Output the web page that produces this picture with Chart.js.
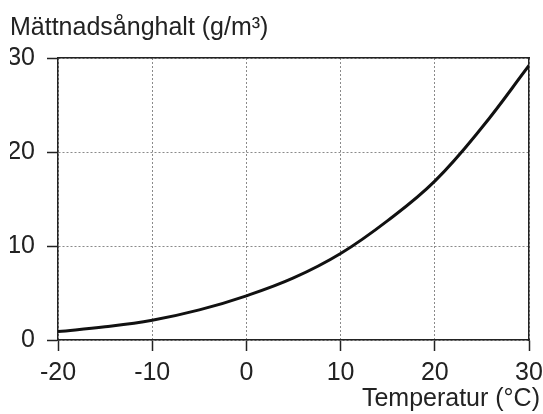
<!DOCTYPE html>
<html>
<head>
<meta charset="utf-8">
<script src="https://cdn.jsdelivr.net/npm/chart.js@4/dist/chart.umd.min.js"></script>
<style>
  html, body { margin: 0; padding: 0; background: #fff; }
  #wrap { width: 543px; height: 414px; }
</style>
</head>
<body>
<div id="wrap"><canvas id="vaporChart"></canvas></div>
<script>
// Saturation vapour content of air vs temperature
const temperatures = [-20, -15, -10, -5, 0, 5, 10, 15, 20, 25, 30];
const vaporContent = [0.9, 1.4, 2.1, 3.2, 4.7, 6.6, 9.2, 12.7, 16.9, 22.6, 29.2];
const xTicks = [-20, -10, 0, 10, 20, 30];
const yTicks = [0, 10, 20, 30];

const ink = '#222';
const gridGray = '#8a8a8a';

Chart.defaults.font.family = "'Liberation Sans', Arial, sans-serif";
Chart.defaults.font.size = 25;
Chart.defaults.color = ink;

const points = temperatures.map((t, i) => ({ x: t, y: vaporContent[i] }));

// frame-only axes on top and right
const frameAxis = (position) => ({
  type: 'linear',
  position: position,
  min: 0,
  max: 1,
  ticks: { display: false },
  grid: { display: false, drawTicks: false },
  border: { display: true, color: ink, width: 1.5 },
  afterFit: (axis) => {
    if (position === 'right') axis.width = 0;
    else axis.height = 0;
    axis.paddingLeft = 0;
    axis.paddingRight = 0;
    axis.paddingTop = 0;
    axis.paddingBottom = 0;
  }
});

const tickGrid = {
  color: gridGray,
  lineWidth: 1,
  tickLength: 11,
  tickColor: ink,
  tickBorderDash: [],
  tickWidth: 1.5
};

const ctx = document.getElementById('vaporChart').getContext('2d');
const vaporChart = new Chart(ctx, {
  type: 'line',
  data: {
    datasets: [{
      data: points,
      borderColor: '#111',
      borderWidth: 3,
      pointRadius: 0,
      fill: false,
      tension: 0.4
    }]
  },
  options: {
    responsive: true,
    maintainAspectRatio: false,
    animation: false,
    layout: { padding: { left: 10, right: 3, top: 0, bottom: 0 } },
    scales: {
      x: {
        type: 'linear',
        min: -20,
        max: 30,
        afterBuildTicks: (axis) => { axis.ticks = xTicks.map(v => ({ value: v })); },
        afterFit: (axis) => {
          axis.height = 44;
          axis.paddingRight = 14;
        },
        ticks: { padding: 7, maxRotation: 0 },
        grid: tickGrid,
        border: { display: true, color: ink, width: 1.5, dash: [2, 2] }
      },
      y: {
        type: 'linear',
        min: 0,
        max: 30,
        afterBuildTicks: (axis) => { axis.ticks = yTicks.map(v => ({ value: v })); },
        afterFit: (axis) => { axis.width = 48; },
        ticks: { padding: 12 },
        grid: tickGrid,
        border: { display: true, color: ink, width: 1.5, dash: [2, 2] }
      },
      xTop: frameAxis('top'),
      yRight: frameAxis('right')
    },
    plugins: {
      legend: { display: false },
      tooltip: { enabled: false },
      title: {
        display: true,
        text: 'Mättnadsånghalt (g/m³)',
        align: 'start',
        color: ink,
        font: { size: 25, weight: 'normal' },
        padding: { top: 13, bottom: 15 }
      },
      subtitle: {
        display: true,
        position: 'bottom',
        text: 'Temperatur (°C)',
        align: 'end',
        color: ink,
        font: { size: 25 },
        padding: { top: 0, bottom: 0 }
      }
    }
  }
});
</script>
</body>
</html>
